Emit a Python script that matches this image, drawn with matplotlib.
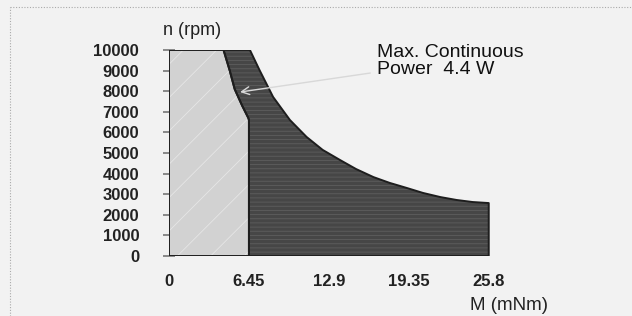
import matplotlib
matplotlib.use("Agg")
import matplotlib.pyplot as plt
from matplotlib.patches import Polygon
from matplotlib.lines import Line2D

# continuous operation limit (light area)
cont_torque = [0, 0, 4.4, 4.9, 5.3, 5.9, 6.4, 6.45, 6.45]
cont_speed = [0, 10000, 10000, 9000, 8100, 7300, 6700, 6600, 0]

# intermittent operation limit (dark area, upper curve)
int_torque = [6.53, 7.3, 8.4, 9.76, 11.1, 12.4, 13.8, 15.1, 16.5, 17.8, 19.2,
              20.5, 21.9, 23.2, 24.5, 25.8]
int_speed = [10000, 9030, 7720, 6600, 5780, 5150, 4660, 4220, 3830, 3550, 3300,
             3060, 2860, 2720, 2620, 2570]

x_ticks = [0, 6.45, 12.9, 19.35, 25.8]
x_labels = ["0", "6.45", "12.9", "19.35", "25.8"]
y_ticks = list(range(0, 10001, 1000))

plt.rcParams["font.family"] = ["Liberation Sans", "DejaVu Sans"]
plt.rcParams["hatch.linewidth"] = 0.6

fig = plt.figure(figsize=(6.32, 3.16), dpi=100, facecolor="#f2f2f2")
ax = fig.add_axes([169 / 632, 60 / 316, 347 / 632, 206 / 316])
ax.set_xlim(0, 28)
ax.set_ylim(0, 10000)
ax.patch.set_visible(False)
for s in ax.spines.values():
    s.set_visible(False)

# dark region: between continuous boundary and intermittent curve
n_top = 7  # points of the continuous boundary that border the dark area
dark_pts = [(cont_torque[2], 10000)] + list(zip(int_torque, int_speed)) + \
    [(int_torque[-1], 0), (6.45, 0)] + \
    [(t, n) for t, n in zip(cont_torque[::-1], cont_speed[::-1])][1:n_top]
ax.add_patch(Polygon(dark_pts, closed=True, facecolor="#464646",
                     edgecolor="#5e5e5e", hatch="----", linewidth=0, zorder=2))
ax.add_patch(Polygon(dark_pts, closed=True, fill=False, joinstyle="round",
                     edgecolor="#1e1e1e", linewidth=1.4, zorder=4))

light_pts = list(zip(cont_torque, cont_speed))
ax.add_patch(Polygon(light_pts, closed=True, facecolor="#d2d2d2",
                     edgecolor="#e6e6e6", hatch="/", linewidth=0, zorder=3))
ax.add_patch(Polygon(light_pts, closed=True, fill=False, joinstyle="round",
                     edgecolor="#1e1e1e", linewidth=1.4, zorder=4))

ax.set_xticks(x_ticks)
ax.set_xticklabels(x_labels)
ax.set_yticks(y_ticks)
ax.tick_params(axis="x", length=0, pad=13, labelsize=12)
ax.tick_params(axis="y", direction="inout", length=9, width=1.2,
               color="#777777", pad=17, labelsize=12)
for lab in ax.get_xticklabels() + ax.get_yticklabels():
    lab.set_fontweight("bold")
    lab.set_color("#222222")

ax.text(-0.5, 10950, "n (rpm)", fontsize=13, color="#222222",
        ha="left", va="center")
ax.text(24.3, -2400, "M (mNm)", fontsize=13.5, color="#222222",
        ha="left", va="center")

ax.annotate("Max. Continuous\nPower  4.4 W", xy=(5.73, 7960),
            xytext=(16.8, 9450), fontsize=14, color="#111111",
            ha="left", va="center", linespacing=1.0,
            arrowprops=dict(arrowstyle="->", color="#d8d8d8", lw=1.0,
                            shrinkA=3, shrinkB=0, mutation_scale=14),
            zorder=6)

# dotted frame
fig.add_artist(Line2D([10 / 632, 10 / 632], [0, 1 - 7 / 316], transform=fig.transFigure,
                      color="#aaaaaa", lw=0.8, linestyle=(0, (1, 1.5))))
fig.add_artist(Line2D([10 / 632, 1], [1 - 7 / 316, 1 - 7 / 316], transform=fig.transFigure,
                      color="#aaaaaa", lw=0.8, linestyle=(0, (1, 1.5))))

fig.savefig("out.png", dpi=100, facecolor=fig.get_facecolor())
